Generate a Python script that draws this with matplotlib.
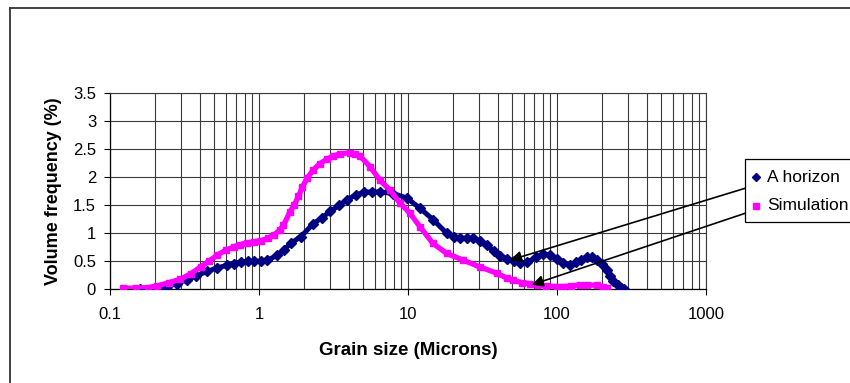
import matplotlib
matplotlib.use("Agg")
import matplotlib.pyplot as plt
from matplotlib.lines import Line2D
from matplotlib.patches import Rectangle
from matplotlib.ticker import FixedLocator, LogLocator, NullFormatter

plt.rcParams['font.family'] = ['Liberation Sans', 'DejaVu Sans']

# Grain size distribution, A horizon (measured)
a_size = [0.159, 0.20, 0.241, 0.28, 0.329, 0.38, 0.449, 0.52, 0.612, 0.68,
          0.752, 0.84, 0.925, 1.03, 1.14, 1.33, 1.48, 1.63, 1.91, 2.31,
          2.65, 3.00, 3.45, 3.89, 4.45, 5.03, 5.7, 6.48, 7.97, 9.81,
          12.0, 14.8, 18.2, 20.5, 22.4, 25.0, 27.5, 30.3, 33.9, 37.5,
          41.7, 46.0, 51.2, 56.4, 63.0, 72.0, 81.0, 90.0, 99.5, 110.0,
          122.0, 134.0, 146.0, 158.0, 172.0, 185.0, 200.0, 215.0, 228.0, 238.0,
          255.0, 270.0, 281.0]
a_freq = [0.00, 0.02, 0.05, 0.10, 0.17, 0.24, 0.32, 0.38, 0.43, 0.46,
          0.49, 0.50, 0.50, 0.50, 0.52, 0.61, 0.71, 0.82, 0.94, 1.17,
          1.28, 1.39, 1.50, 1.60, 1.68, 1.73, 1.74, 1.74, 1.71, 1.63,
          1.45, 1.24, 1.00, 0.93, 0.91, 0.91, 0.91, 0.86, 0.79, 0.68,
          0.60, 0.54, 0.51, 0.47, 0.48, 0.57, 0.63, 0.61, 0.55, 0.47,
          0.43, 0.48, 0.53, 0.58, 0.57, 0.52, 0.45, 0.35, 0.24, 0.14,
          0.07, 0.03, 0.00]

# Grain size distribution, simulation
s_size = [0.123, 0.15, 0.18, 0.206, 0.25, 0.296, 0.35, 0.405, 0.46, 0.524,
          0.60, 0.678, 0.75, 0.834, 0.93, 1.03, 1.15, 1.26, 1.38, 1.46,
          1.61, 1.72, 1.84, 1.95, 2.10, 2.31, 2.55, 2.84, 3.15, 3.50,
          4.08, 4.40, 4.76, 5.56, 6.48, 7.57, 8.83, 10.3, 12.0, 14.7,
          18.2, 23.5, 30.3, 39.3, 46.0, 50.7, 58.0, 66.0, 75.0, 85.0,
          100.0, 110.0, 125.0, 142.0, 160.0, 185.0, 205.0, 217.0]
s_freq = [0.02, 0.02, 0.03, 0.06, 0.12, 0.18, 0.28, 0.40, 0.50, 0.61,
          0.70, 0.76, 0.80, 0.83, 0.85, 0.87, 0.91, 0.97, 1.06, 1.14,
          1.38, 1.50, 1.66, 1.82, 1.98, 2.13, 2.24, 2.32, 2.38, 2.42,
          2.44, 2.42, 2.38, 2.19, 1.95, 1.77, 1.54, 1.36, 1.12, 0.82,
          0.64, 0.52, 0.40, 0.29, 0.20, 0.16, 0.12, 0.10, 0.08, 0.06,
          0.05, 0.05, 0.06, 0.08, 0.08, 0.07, 0.05, 0.02]

series_names = ["A horizon", "Simulation"]
x_ticks = [0.1, 1, 10, 100, 1000]
x_tick_labels = ["0.1", "1", "10", "100", "1000"]
y_ticks = [0, 0.5, 1, 1.5, 2, 2.5, 3, 3.5]
y_tick_labels = ["0", "0.5", "1", "1.5", "2", "2.5", "3", "3.5"]

# arrow tips (grain size, frequency) pointing from the legend entries
arrow_tips = [(48.4, 0.52), (67.7, 0.08)]

NAVY = "#000080"
MAGENTA = "#FF00FF"
GRID = "#3a3a3a"
W, H = 850, 383

fig = plt.figure(figsize=(W / 100, H / 100), dpi=100)
ax = fig.add_axes([110 / W, 1 - 289.3 / H, 596 / W, 196 / H])

ax.set_xscale("log")
ax.set_xlim(0.1, 1000)
ax.set_ylim(0, 3.5)

ax.plot(a_size, a_freq, color=NAVY, lw=3.6, marker="D", ms=4.8,
        mec=NAVY, mfc=NAVY, zorder=3)
ax.plot(s_size, s_freq, color=MAGENTA, lw=3.8, marker="s", ms=4.6,
        mec=MAGENTA, mfc=MAGENTA, zorder=3)

ax.xaxis.set_major_locator(FixedLocator(x_ticks))
ax.set_xticklabels(x_tick_labels)
ax.xaxis.set_minor_locator(LogLocator(base=10, subs=range(2, 10)))
ax.xaxis.set_minor_formatter(NullFormatter())
ax.set_yticks(y_ticks)
ax.set_yticklabels(y_tick_labels)

ax.grid(which="both", axis="x", color=GRID, lw=0.8)
ax.grid(which="major", axis="y", color=GRID, lw=0.8)
ax.set_axisbelow(True)

ax.tick_params(axis="both", which="major", direction="out", length=4,
               width=0.8, labelsize=12, color="black")
ax.tick_params(axis="x", which="major", pad=9)
ax.tick_params(axis="y", which="major", pad=6)
ax.tick_params(axis="x", which="minor", length=0)

for side in ("top", "right"):
    ax.spines[side].set_color(GRID)
    ax.spines[side].set_linewidth(0.8)
for side in ("left", "bottom"):
    ax.spines[side].set_color("black")
    ax.spines[side].set_linewidth(0.9)

ax.set_xlabel("Grain size (Microns)", fontsize=13.5, fontweight="bold",
              labelpad=14)
ax.set_ylabel("Volume frequency (%)", fontsize=13, fontweight="bold",
              labelpad=8)

# chart border (top and left edges visible)
fig.add_artist(Line2D([10 / W, 10 / W], [0, 1 - 8 / H], color="#333333",
                      lw=1.3, transform=fig.transFigure))
fig.add_artist(Line2D([10 / W, 1], [1 - 8 / H, 1 - 8 / H], color="#333333",
                      lw=1.3, transform=fig.transFigure))

# legend box
lx0, ly_top, ly_bot = 745, 159, 222
fig.add_artist(Rectangle((lx0 / W, 1 - ly_bot / H), (W + 20 - lx0) / W,
                         (ly_bot - ly_top) / H, transform=fig.transFigure,
                         fill=True, facecolor="white", edgecolor="black",
                         lw=0.9, clip_on=False, zorder=5))
legend_rows = [(177, NAVY, "D", 3.8), (206, MAGENTA, "s", 4.2)]
for (py, col, mk, ms), name in zip(legend_rows, series_names):
    fig.add_artist(Line2D([756 / W], [1 - py / H], marker=mk, ms=ms,
                          color=col, mec=col, mfc=col, ls="none",
                          transform=fig.transFigure, zorder=6))
    fig.text(767 / W, 1 - py / H, name, fontsize=12.5, va="center",
             ha="left", zorder=6)

# arrows from the legend to the curves
arrow_starts = [(746, H - 188), (746, H - 213)]
for tip, start in zip(arrow_tips, arrow_starts):
    ax.annotate("", xy=tip, xycoords="data", xytext=start,
                textcoords="figure pixels",
                arrowprops=dict(arrowstyle="-|>", color="black", lw=1.2,
                                mutation_scale=17, shrinkA=0, shrinkB=0),
                annotation_clip=False, zorder=7)

fig.savefig("out.png", dpi=100)
